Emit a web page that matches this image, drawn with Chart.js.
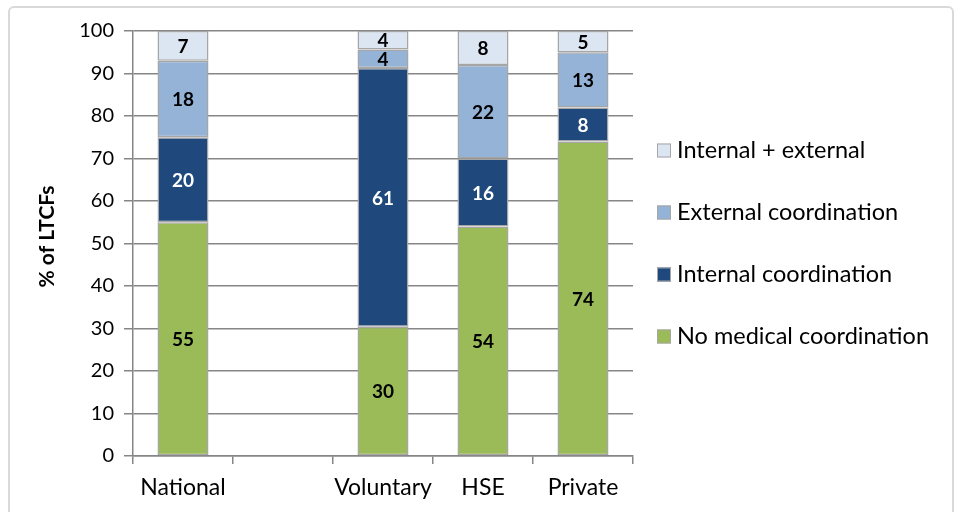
<!DOCTYPE html>
<html>
<head>
<meta charset="utf-8">
<script src="https://cdn.jsdelivr.net/npm/chart.js@4"></script>
<style>
    html, body { margin: 0; padding: 0; background: #fff; }
    #wrap { position: relative; width: 963px; height: 512px; overflow: hidden; }
    #frame {
        position: absolute; left: 8px; top: 6px; width: 946px; height: 520px;
        border: 2px solid #d9d9d9; border-radius: 6px; box-sizing: border-box;
    }
    #chart { position: absolute; left: 0; top: 0; }
</style>
</head>
<body>
<div id="wrap">
    <div id="frame"></div>
    <canvas id="chart" width="963" height="512"></canvas>
</div>
<script>
const categories = ['National', '', 'Voluntary', 'HSE', 'Private'];
const noMedical = [55, null, 30.4, 54, 74];
const internalCoord = [20, null, 60.9, 16, 8];
const externalCoord = [18, null, 4.35, 22, 13];
const internalExternal = [7, null, 4.35, 8, 5];
const yTicks = [0, 10, 20, 30, 40, 50, 60, 70, 80, 90, 100];
const yTitle = '% of LTCFs';

const FONT = 'Lato, "Open Sans", sans-serif';
const AREA = { left: 133, right: 633, top: 31, bottom: 456 };

// Values printed in the middle of each segment
const segmentLabels = {
    id: 'segmentLabels',
    afterDatasetsDraw(chart) {
        const ctx = chart.ctx;
        ctx.save();
        ctx.font = 'bold 19px ' + FONT;
        ctx.textAlign = 'center';
        ctx.textBaseline = 'middle';
        chart.data.datasets.forEach((ds, i) => {
            const meta = chart.getDatasetMeta(i);
            meta.data.forEach((bar, j) => {
                const v = ds.data[j];
                if (v == null) return;
                ctx.fillStyle = ds.labelColor;
                ctx.fillText(Math.round(v), bar.x, (bar.y + bar.base) / 2 + 1);
            });
        });
        ctx.restore();
    }
};

// Legend on the right and the y title, drawn by hand to place them like the original
const sideLegend = {
    id: 'sideLegend',
    afterDraw(chart) {
        const ctx = chart.ctx;
        const area = chart.chartArea;
        const items = chart.data.datasets.slice().reverse();
        const gap = 62;
        const mid = (area.top + area.bottom) / 2;
        ctx.save();
        ctx.font = '23.5px ' + FONT;
        ctx.textBaseline = 'middle';
        ctx.textAlign = 'left';
        items.forEach((ds, i) => {
            const y = mid + (i - (items.length - 1) / 2) * gap;
            ctx.fillStyle = ds.backgroundColor;
            ctx.fillRect(657, y - 7, 14, 14);
            ctx.strokeStyle = '#a6a6a6';
            ctx.lineWidth = 1;
            ctx.strokeRect(657.5, y - 6.5, 13, 13);
            ctx.fillStyle = '#000';
            ctx.fillText(ds.label, 677, y);
        });

        ctx.translate(47, mid - 7);
        ctx.rotate(-Math.PI / 2);
        ctx.font = 'bold 21px ' + FONT;
        ctx.textAlign = 'center';
        ctx.fillText(yTitle, 0, 0);
        ctx.restore();
    }
};

function makeSet(label, data, color, labelColor) {
    return {
        label: label,
        data: data,
        backgroundColor: color,
        borderColor: '#a6a6a6',
        borderWidth: 1.5,
        borderSkipped: false,
        labelColor: labelColor,
        barPercentage: 0.51,
        categoryPercentage: 1
    };
}

new Chart(document.getElementById('chart'), {
    type: 'bar',
    data: {
        labels: categories,
        datasets: [
            makeSet('No medical coordination', noMedical, '#9bbb59', '#000'),
            makeSet('Internal coordination', internalCoord, '#1f497d', '#fff'),
            makeSet('External coordination', externalCoord, '#95b3d7', '#000'),
            makeSet('Internal + external', internalExternal, '#dce6f2', '#000')
        ]
    },
    options: {
        responsive: false,
        animation: false,
        layout: { padding: { left: 0, top: AREA.top, right: 963 - AREA.right, bottom: 0 } },
        plugins: {
            legend: { display: false },
            tooltip: { enabled: false }
        },
        scales: {
            x: {
                stacked: true,
                afterFit: (s) => { s.height = 512 - AREA.bottom; },
                grid: { offset: true, drawOnChartArea: false, tickLength: 8, color: '#868686', lineWidth: 1.5 },
                border: { color: '#868686', width: 1.5 },
                ticks: { color: '#000', font: { family: FONT, size: 23 }, padding: 10, maxRotation: 0, autoSkip: false }
            },
            y: {
                stacked: true,
                min: 0,
                max: 100,
                afterFit: (s) => { s.width = AREA.left; },
                afterBuildTicks: (s) => { s.ticks = yTicks.map(v => ({ value: v })); },
                grid: { color: '#868686', lineWidth: 1.5, tickLength: 9 },
                border: { color: '#868686', width: 1.5 },
                ticks: { color: '#000', font: { family: FONT, size: 20 }, padding: 10, autoSkip: false }
            }
        }
    },
    plugins: [segmentLabels, sideLegend]
});
</script>
</body>
</html>
